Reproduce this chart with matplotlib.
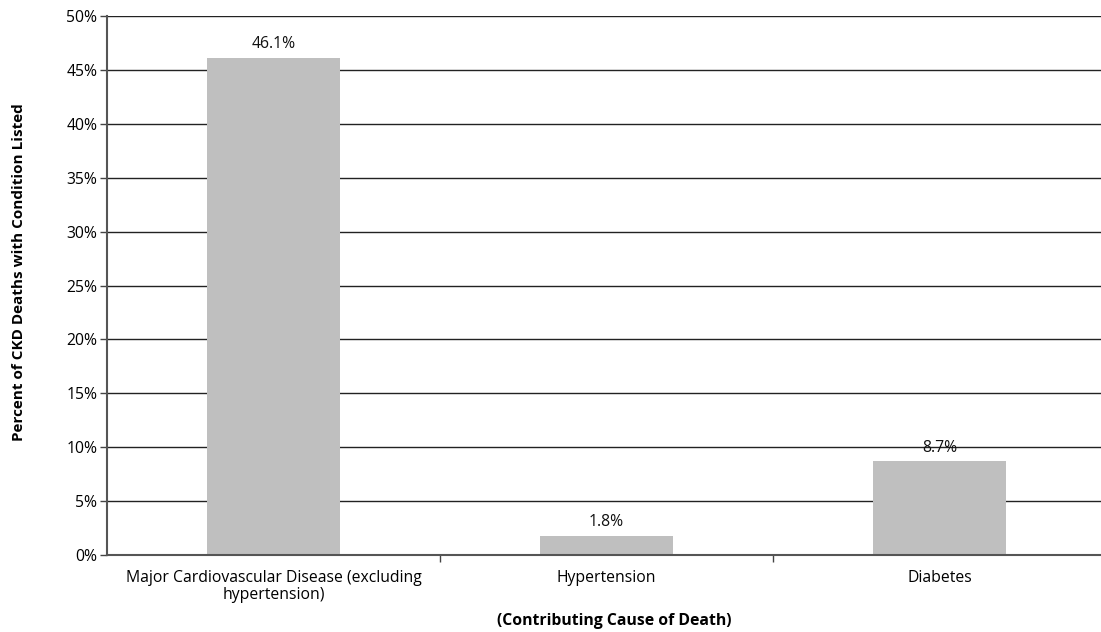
import numpy as np
import matplotlib.pyplot as plt
from matplotlib.ticker import FixedLocator, PercentFormatter

causes = ["Major Cardiovascular Disease (excluding\nhypertension)", "Hypertension", "Diabetes"]
percent = [46.1, 1.8, 8.7]
value_labels = ["46.1%", "1.8%", "8.7%"]

plt.rcParams['font.family'] = ['Open Sans', 'DejaVu Sans']

W, H = 1101, 632
fig = plt.figure(figsize=(W / 100, H / 100), dpi=100)
ax = fig.add_axes([107 / W, 1 - 555 / H, 999 / W, (555 - 16) / H])

x = np.arange(len(causes))
ax.bar(x, percent, width=0.4, color="#bfbfbf", zorder=2)
for xi, v, lab in zip(x, percent, value_labels):
    ax.annotate(lab, (xi, v), xytext=(0, 4), textcoords="offset points",
                ha="center", va="bottom", fontsize=11.3, color="#111111")

ax.set_xlim(-0.5, 2.5)
ax.set_ylim(0, 50)
ax.set_yticks(np.arange(0, 51, 5))
ax.yaxis.set_major_formatter(PercentFormatter(decimals=0))
ax.yaxis.grid(True, color="#222222", linewidth=1.0, zorder=0)
ax.set_axisbelow(True)

# category labels centred, tick marks on the category boundaries
ax.xaxis.set_major_locator(FixedLocator([0.5, 1.5]))
ax.xaxis.set_minor_locator(FixedLocator(x))
ax.set_xticklabels([])
ax.set_xticklabels(causes, minor=True, fontsize=11.3, linespacing=1.05)
ax.tick_params(axis="x", which="minor", length=0, pad=11)
ax.tick_params(axis="x", which="major", length=5, width=1, color="#444444")
ax.tick_params(axis="y", length=5, width=1, color="#444444", labelsize=11.3, pad=2)

for side in ("top", "right"):
    ax.spines[side].set_visible(False)
for side in ("left", "bottom"):
    ax.spines[side].set_color("#555555")
    ax.spines[side].set_linewidth(1.5)

fig.text(614 / W, 1 - 621 / H, "(Contributing Cause of Death)", ha="center", va="center",
         fontsize=11.3, fontweight="bold")
fig.text(19 / W, 1 - 272 / H, "Percent of CKD Deaths with Condition Listed", ha="center",
         va="center", rotation=90, fontsize=11, fontweight="bold")

fig.savefig("out.png", dpi=100)
